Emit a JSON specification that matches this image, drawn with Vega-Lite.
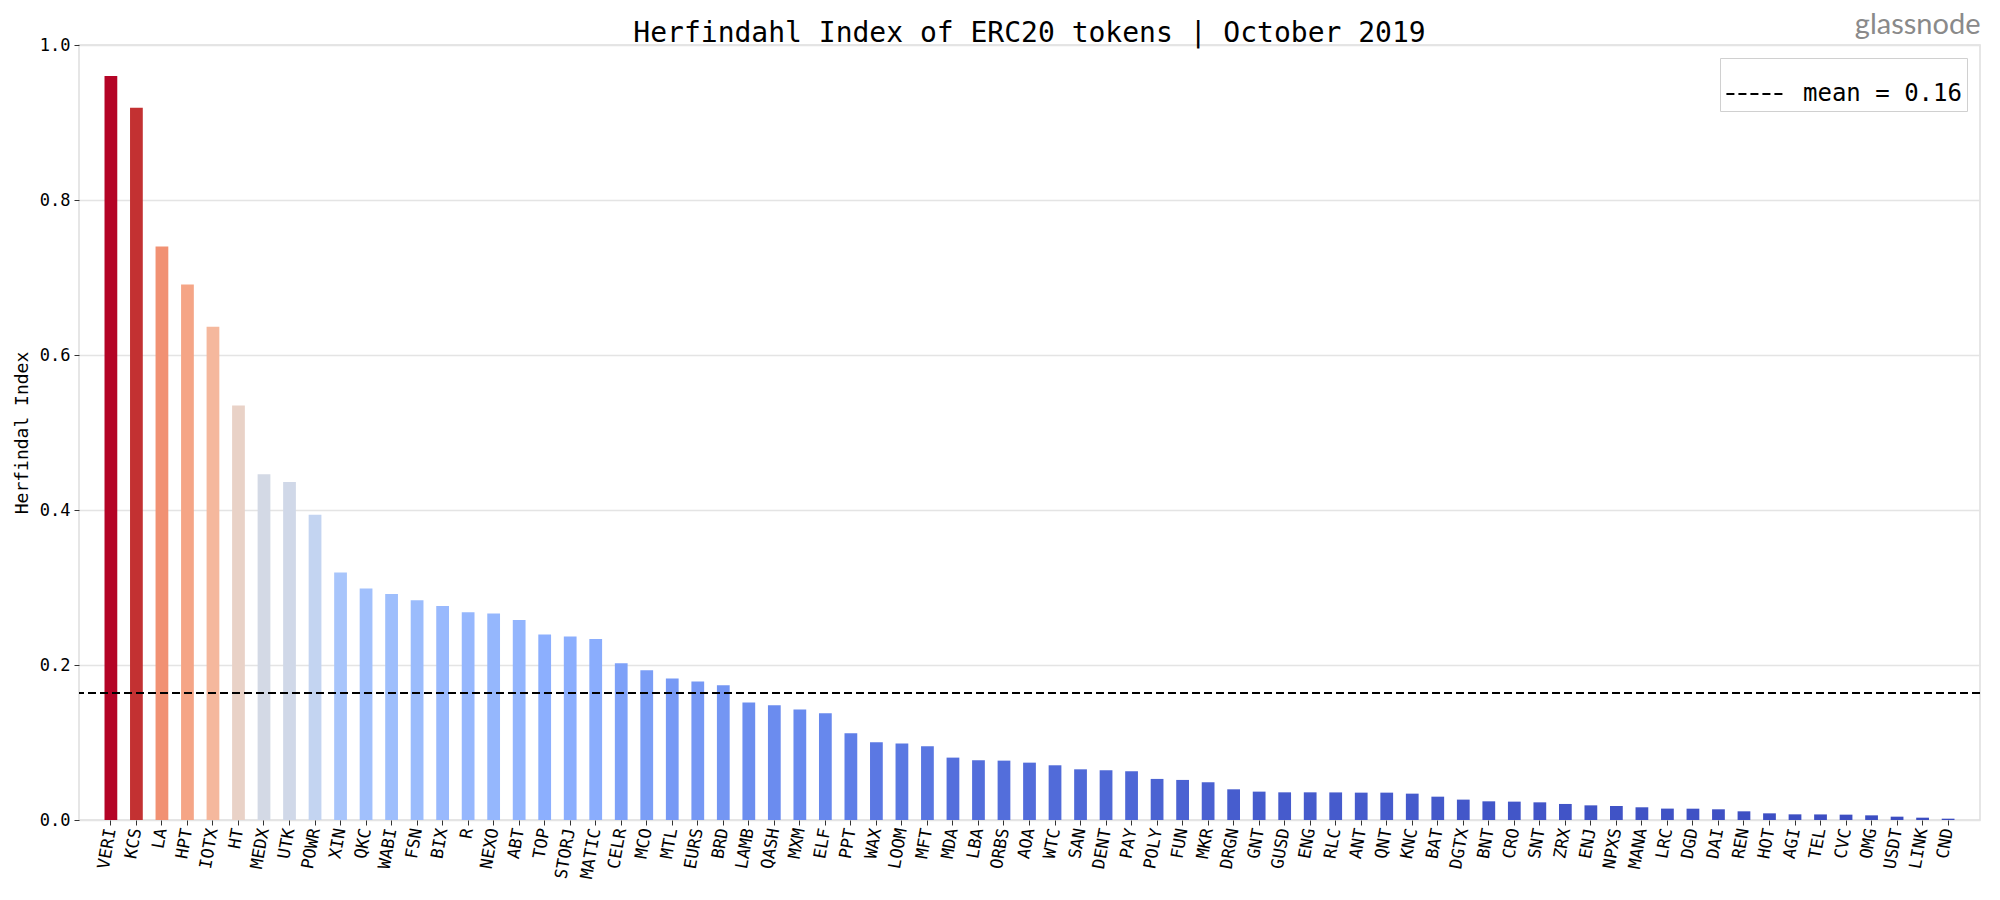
{
  "$schema": "https://vega.github.io/schema/vega-lite/v6.json",
  "width": 1901,
  "height": 775,
  "autosize": "none",
  "padding": {"left": 79, "top": 45, "right": 20, "bottom": 80},
  "background": "white",
  "title": {
    "text": "Herfindahl Index of ERC20 tokens | October 2019",
    "font": "DejaVu Sans Mono",
    "fontSize": 28,
    "fontWeight": "normal",
    "color": "black",
    "anchor": "middle",
    "baseline": "alphabetic",
    "offset": -60
  },
  "config": {
    "view": {"stroke": "#dedede", "strokeWidth": 1.5},
    "axis": {
      "labelFont": "DejaVu Sans Mono",
      "labelFontSize": 17,
      "labelColor": "black",
      "titleFont": "DejaVu Sans Mono",
      "titleFontSize": 18,
      "titleFontWeight": "normal",
      "titleColor": "black",
      "tickColor": "#333333",
      "tickSize": 5,
      "domain": false
    }
  },
  "layer": [
    {
      "data": {
        "values": [
          {"token": "VERI", "value": 0.960},
          {"token": "KCS", "value": 0.919},
          {"token": "LA", "value": 0.740},
          {"token": "HPT", "value": 0.691},
          {"token": "IOTX", "value": 0.6365},
          {"token": "HT", "value": 0.535},
          {"token": "MEDX", "value": 0.446},
          {"token": "UTK", "value": 0.436},
          {"token": "POWR", "value": 0.394},
          {"token": "XIN", "value": 0.3195},
          {"token": "QKC", "value": 0.2988},
          {"token": "WABI", "value": 0.2915},
          {"token": "FSN", "value": 0.2837},
          {"token": "BIX", "value": 0.276},
          {"token": "R", "value": 0.268},
          {"token": "NEXO", "value": 0.2665},
          {"token": "ABT", "value": 0.258},
          {"token": "TOP", "value": 0.2394},
          {"token": "STORJ", "value": 0.2368},
          {"token": "MATIC", "value": 0.2334},
          {"token": "CELR", "value": 0.2024},
          {"token": "MCO", "value": 0.1933},
          {"token": "MTL", "value": 0.1826},
          {"token": "EURS", "value": 0.1787},
          {"token": "BRD", "value": 0.174},
          {"token": "LAMB", "value": 0.1516},
          {"token": "QASH", "value": 0.1481},
          {"token": "MXM", "value": 0.1425},
          {"token": "ELF", "value": 0.1378},
          {"token": "PPT", "value": 0.112},
          {"token": "WAX", "value": 0.1003},
          {"token": "LOOM", "value": 0.0986},
          {"token": "MFT", "value": 0.0952},
          {"token": "MDA", "value": 0.0805},
          {"token": "LBA", "value": 0.0771},
          {"token": "ORBS", "value": 0.0766},
          {"token": "AOA", "value": 0.074},
          {"token": "WTC", "value": 0.0706},
          {"token": "SAN", "value": 0.0654},
          {"token": "DENT", "value": 0.0642},
          {"token": "PAY", "value": 0.0629},
          {"token": "POLY", "value": 0.053},
          {"token": "FUN", "value": 0.0517},
          {"token": "MKR", "value": 0.0487},
          {"token": "DRGN", "value": 0.0396},
          {"token": "GNT", "value": 0.0366},
          {"token": "GUSD", "value": 0.0357},
          {"token": "ENG", "value": 0.0357},
          {"token": "RLC", "value": 0.0356},
          {"token": "ANT", "value": 0.0353},
          {"token": "QNT", "value": 0.0353},
          {"token": "KNC", "value": 0.034},
          {"token": "BAT", "value": 0.0301},
          {"token": "DGTX", "value": 0.0263},
          {"token": "BNT", "value": 0.0241},
          {"token": "CRO", "value": 0.0237},
          {"token": "SNT", "value": 0.0228},
          {"token": "ZRX", "value": 0.0207},
          {"token": "ENJ", "value": 0.0189},
          {"token": "NPXS", "value": 0.0181},
          {"token": "MANA", "value": 0.0164},
          {"token": "LRC", "value": 0.0147},
          {"token": "DGD", "value": 0.0146},
          {"token": "DAI", "value": 0.0138},
          {"token": "REN", "value": 0.0112},
          {"token": "HOT", "value": 0.0086},
          {"token": "AGI", "value": 0.0073},
          {"token": "TEL", "value": 0.0072},
          {"token": "CVC", "value": 0.0069},
          {"token": "OMG", "value": 0.006},
          {"token": "USDT", "value": 0.0043},
          {"token": "LINK", "value": 0.003},
          {"token": "CND", "value": 0.0017}
        ]
      },
      "mark": {"type": "bar"},
      "encoding": {
        "x": {
          "field": "token",
          "type": "nominal",
          "sort": null,
          "scale": {"paddingInner": 0.5, "paddingOuter": 3.61},
          "axis": {"title": null, "labelAngle": -80, "labelPadding": 3, "grid": false}
        },
        "y": {
          "field": "value",
          "type": "quantitative",
          "scale": {"domain": [0, 1], "nice": false},
          "axis": {
            "title": "Herfindal Index",
            "values": [0, 0.2, 0.4, 0.6, 0.8, 1.0],
            "format": ".1f",
            "grid": true,
            "gridColor": "#e4e4e4",
            "gridWidth": 1.5,
            "labelPadding": 4,
            "titlePadding": 8
          }
        },
        "color": {
          "field": "value",
          "type": "quantitative",
          "scale": {
            "domain": [0.0017, 0.1215, 0.2413, 0.3611, 0.4809, 0.6006, 0.7204, 0.8402, 0.96],
            "range": ["#3b4cc0", "#6282ea", "#8db0fe", "#b8d0f9", "#dddddd", "#f5c4ad", "#f49a7b", "#de604d", "#b40426"]
          },
          "legend": null
        }
      }
    },
    {
      "data": {"values": [{"label": "mean = 0.16", "value": 0.164}]},
      "mark": {"type": "rule", "color": "black", "strokeWidth": 2},
      "encoding": {
        "y": {
          "field": "value",
          "type": "quantitative",
          "axis": {
            "orient": "right",
            "title": "glassnode",
            "titleFont": "Lato",
            "titleFontSize": 29,
            "titleColor": "#8a8a8a",
            "titleAngle": 0,
            "titleAlign": "right",
            "titleBaseline": "alphabetic",
            "titleX": 0,
            "titleY": -12,
            "labels": false,
            "ticks": false,
            "grid": false,
            "domain": false
          }
        },
        "strokeDash": {
          "field": "label",
          "type": "nominal",
          "scale": {"range": [[8, 4]]},
          "legend": {
            "title": null,
            "orient": "top-right",
            "offset": 13,
            "padding": 5,
            "strokeColor": "#d0d0d0",
            "fillColor": "white",
            "symbolType": "stroke",
            "symbolStrokeColor": "black",
            "symbolStrokeWidth": 2,
            "symbolSize": 3500,
            "labelFont": "DejaVu Sans Mono",
            "labelFontSize": 24,
            "labelColor": "black",
            "labelOffset": 16
          }
        }
      }
    }
  ],
  "resolve": {"axis": {"y": "independent"}}
}
